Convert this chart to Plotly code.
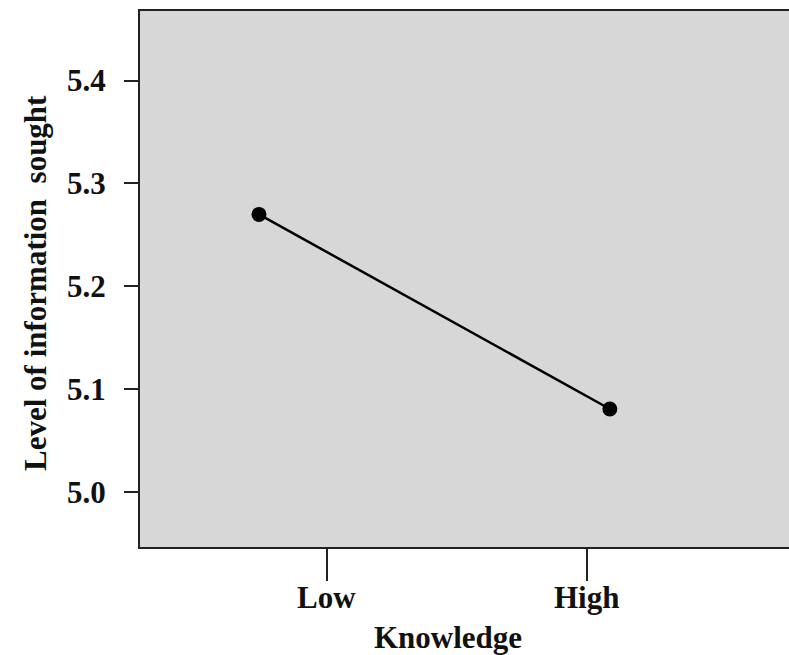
import plotly.graph_objects as go

# Knowledge levels shown on the x axis
knowledge_labels = ["Low", "High"]
knowledge_ticks = [1, 2]

# Plotted knowledge positions and mean level of information sought
knowledge_x = [0.7385, 2.088]
info_sought = [5.27, 5.081]

y_ticks = [5.0, 5.1, 5.2, 5.3, 5.4]
y_tick_text = ["5.0", "5.1", "5.2", "5.3", "5.4"]

serif = dict(family="Liberation Serif, Times New Roman, serif", size=31,
             color="#111111", weight="bold")

fig = go.Figure()
fig.add_trace(go.Scatter(
    x=knowledge_x, y=info_sought,
    mode="lines+markers",
    line=dict(color="black", width=2.5),
    marker=dict(color="black", size=15),
    showlegend=False,
))

# x tick labels placed just under the long tick marks
tick_label_annotations = [
    dict(text=lab, x=xv, xref="x", yref="paper", y=-(597 - 547) / 536,
         showarrow=False, font=serif, xanchor="center", yanchor="middle")
    for lab, xv in zip(knowledge_labels, knowledge_ticks)
]

fig.update_layout(
    width=789, height=655,
    margin=dict(l=140, r=0, t=11, b=108),
    paper_bgcolor="white",
    plot_bgcolor="#d7d7d7",
    font=serif,
    xaxis=dict(
        range=[0.281, 2.777],
        tickvals=knowledge_ticks, ticktext=knowledge_labels,
        showticklabels=False,
        ticks="outside", ticklen=32, tickwidth=2, tickcolor="#222222",
        showgrid=False, zeroline=False,
        showline=True, linewidth=2, linecolor="#222222", mirror=True,
    ),
    yaxis=dict(
        range=[4.947, 5.4675],
        tickvals=y_ticks, ticktext=y_tick_text,
        ticks="outside", ticklen=14, tickwidth=2, tickcolor="#222222",
        showgrid=False, zeroline=False,
        showline=True, linewidth=2, linecolor="#222222",
        tickfont=serif, ticklabelstandoff=12,
    ),
    annotations=tick_label_annotations + [
        dict(text="Knowledge", xref="paper", yref="paper",
             x=(448 - 140) / 649, y=-(637 - 547) / 536,
             showarrow=False, font=serif, xanchor="center", yanchor="middle"),
        dict(text="Level of information  sought", xref="paper", yref="paper",
             x=-(140 - 35) / 649, y=(547 - 283) / 536, textangle=-90,
             showarrow=False, font=serif, xanchor="center", yanchor="middle"),
    ],
)

fig.write_html("out.html")
